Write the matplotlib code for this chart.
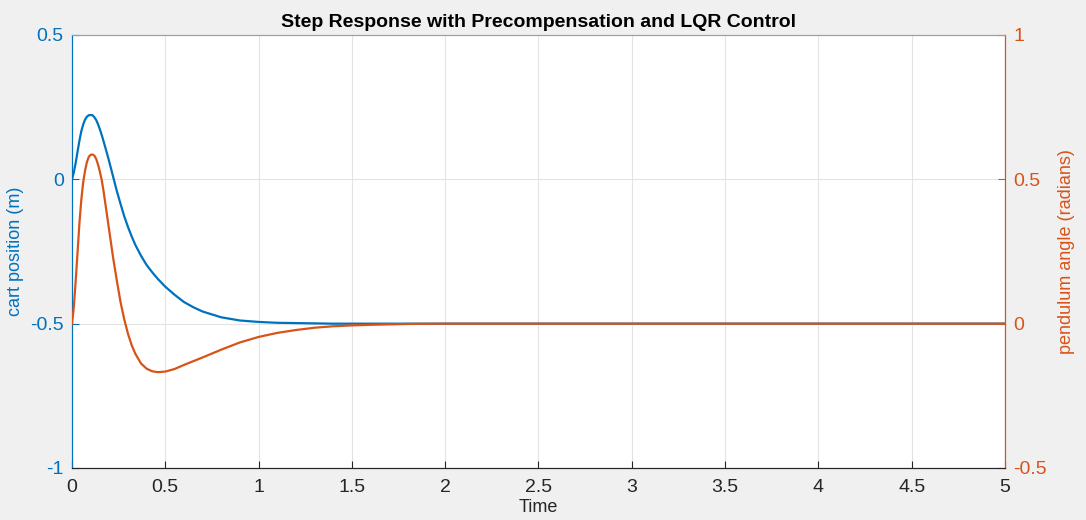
import matplotlib.pyplot as plt

# values
time = [0, 0.01, 0.02, 0.03, 0.04, 0.05, 0.06, 0.07, 0.08, 0.09, 0.10,
        0.11, 0.12, 0.13, 0.14, 0.15, 0.16, 0.17, 0.18, 0.19, 0.20,
        0.22, 0.24, 0.26, 0.28, 0.30, 0.32, 0.34, 0.37, 0.40, 0.43, 0.46,
        0.50, 0.55, 0.60, 0.65, 0.70, 0.80, 0.90, 1.0, 1.1, 1.2, 1.3, 1.4,
        1.5, 1.6, 1.8, 2.0, 3.0, 4.0, 5.0]
cart = [0, 0.025, 0.058, 0.097, 0.135, 0.167, 0.19, 0.207, 0.217, 0.222,
        0.223, 0.222, 0.215, 0.205, 0.19, 0.172, 0.152, 0.13, 0.107, 0.084,
        0.06, 0.01, -0.04, -0.085, -0.128, -0.165, -0.198, -0.228, -0.265,
        -0.297, -0.322, -0.345, -0.372, -0.40, -0.425, -0.443, -0.458,
        -0.478, -0.489, -0.494, -0.497, -0.498, -0.499, -0.5, -0.5, -0.5,
        -0.5, -0.5, -0.5, -0.5, -0.5]
pend = [0, 0.06, 0.15, 0.25, 0.35, 0.43, 0.49, 0.53, 0.56, 0.578, 0.585,
        0.586, 0.582, 0.57, 0.55, 0.525, 0.495, 0.455, 0.41, 0.365, 0.32,
        0.23, 0.15, 0.075, 0.015, -0.035, -0.075, -0.105, -0.138, -0.156,
        -0.165, -0.168, -0.166, -0.157, -0.143, -0.13, -0.117, -0.09,
        -0.065, -0.046, -0.032, -0.022, -0.014, -0.009, -0.006, -0.004,
        -0.001, 0, 0, 0, 0]

x_ticks = [0, 0.5, 1, 1.5, 2, 2.5, 3, 3.5, 4, 4.5, 5]
x_labels = ['0', '0.5', '1', '1.5', '2', '2.5', '3', '3.5', '4', '4.5', '5']
left_ticks = [-1, -0.5, 0, 0.5]
left_labels = ['-1', '-0.5', '0', '0.5']
right_ticks = [-0.5, 0, 0.5, 1]
right_labels = ['-0.5', '0', '0.5', '1']

blue = '#0072BD'
orange = '#D95319'

plt.rcParams['font.family'] = ['Liberation Sans', 'DejaVu Sans']

fig = plt.figure(figsize=(10.86, 5.2), dpi=100, facecolor='#f0f0f0')
ax = fig.add_axes([0.0663, 0.1, 0.8591, 0.8327])
ax.set_facecolor('white')
ax2 = ax.twinx()

ax.plot(time, cart, color=blue, lw=1.6, zorder=3)
ax2.plot(time, pend, color=orange, lw=1.6, zorder=3)

ax.set_xlim(0, 5)
ax.set_ylim(-1, 0.5)
ax2.set_ylim(-0.5, 1)

ax.set_xticks(x_ticks)
ax.set_xticklabels(x_labels)
ax.set_yticks(left_ticks)
ax.set_yticklabels(left_labels)
ax2.set_yticks(right_ticks)
ax2.set_yticklabels(right_labels)

ax.grid(True, color='#e3e3e3', lw=0.8)
ax.set_axisbelow(True)

ax.tick_params(axis='x', direction='in', length=5, colors='#262626',
               labelsize=14, pad=8)
ax.tick_params(axis='y', direction='in', length=5, colors=blue,
               labelsize=14, pad=6)
ax2.tick_params(axis='y', direction='in', length=5, colors=orange,
                labelsize=14, pad=6)

for a in (ax, ax2):
    a.spines['top'].set_color('#a0a0a0')
    a.spines['bottom'].set_color('#262626')
    a.spines['left'].set_color(blue)
    a.spines['right'].set_color(orange)

ax.set_xlabel('Time', fontsize=13, color='#262626', labelpad=2)
ax.set_ylabel('cart position (m)', fontsize=13, color=blue, labelpad=4)
ax2.set_ylabel('pendulum angle (radians)', fontsize=13, color=orange,
               labelpad=8)
ax.set_title('Step Response with Precompensation and LQR Control',
             fontsize=14, fontweight='bold', color='black', pad=6)

fig.savefig('out.png', dpi=100, facecolor=fig.get_facecolor())
